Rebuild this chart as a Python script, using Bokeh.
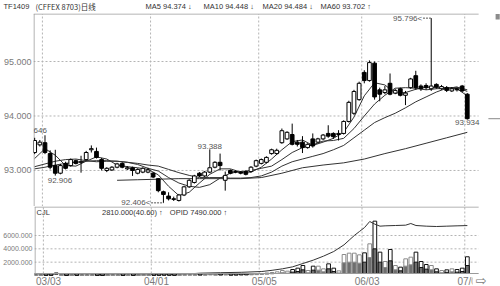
from bokeh.plotting import figure
from bokeh.models import (ColumnDataSource, FixedTicker, Range1d, Label,
                          NumeralTickFormatter)
from bokeh.layouts import column
from bokeh.embed import file_html
from bokeh.resources import INLINE
from bokeh.core.properties import value

FONT = "Liberation Sans"
CJK = "Noto Sans CJK SC"

# ---------------- data (trading-day index; 0 = 03/03) ----------------
idx = list(range(-2, 83))
opens = [93.33, 93.47,
         93.51, 93.31, 93.09, 92.95, 93.13, 93.09, 93.18, 93.15, 93.20, 93.38,
         93.35, 93.20, 93.00, 93.01, 93.06, 93.13, 93.03, 93.05, 92.95, 92.97,
         92.97, 92.95, 92.85, 92.61, 92.53, 92.48, 92.45, 92.55, 92.70, 92.78,
         92.95, 92.90, 92.97, 93.06, 93.15, 92.82, 93.00, 92.98, 92.97, 92.98,
         92.98, 93.08, 93.13, 93.15, 93.31, 93.31, 93.51, 93.58, 93.66, 93.52,
         93.52, 93.42, 93.58, 93.52, 93.58, 93.68, 93.68, 93.66, 93.68, 93.90,
         94.05, 94.30, 94.80, 94.65, 94.97, 94.48, 94.43, 94.60, 94.42, 94.50,
         94.38, 94.52, 94.74, 94.55, 94.56, 94.50, 94.58, 94.50, 94.52, 94.46,
         94.50, 94.55, 94.40]
highs = [93.60, 93.56,
         93.646, 93.37, 93.38, 93.12, 93.16, 93.22, 93.20, 93.27, 93.36, 93.46,
         93.42, 93.23, 93.06, 93.08, 93.14, 93.15, 93.08, 93.07, 93.04, 93.06,
         93.05, 92.97, 92.86, 92.63, 92.60, 92.52, 92.57, 92.72, 92.84, 92.92,
         92.97, 92.99, 93.388, 93.17, 93.31, 92.98, 93.02, 93.00, 92.99, 93.00,
         93.08, 93.20, 93.22, 93.26, 93.40, 93.40, 93.77, 93.72, 93.86, 93.56,
         93.63, 93.50, 93.68, 93.60, 93.67, 93.83, 93.70, 93.74, 93.92, 94.28,
         94.48, 94.63, 94.84, 95.02, 95.00, 94.52, 94.55, 94.78, 94.50, 94.52,
         94.46, 94.70, 94.83, 94.58, 94.60, 95.796, 94.60, 94.57, 94.55, 94.53,
         94.52, 94.57, 94.42]
lows = [93.30, 93.44,
        93.30, 93.02, 92.906, 92.93, 93.02, 93.07, 93.11, 92.96, 93.18, 93.33,
        93.22, 93.00, 92.97, 92.99, 93.04, 93.04, 93.01, 92.90, 92.93, 92.95,
        92.95, 92.86, 92.60, 92.406, 92.45, 92.44, 92.43, 92.53, 92.68, 92.76,
        92.88, 92.88, 92.95, 93.04, 93.00, 92.63, 92.93, 92.95, 92.93, 92.91,
        92.96, 93.06, 93.11, 93.13, 93.29, 93.29, 93.49, 93.56, 93.46, 93.44,
        93.32, 93.40, 93.42, 93.50, 93.56, 93.60, 93.58, 93.55, 93.66, 93.88,
        94.02, 94.28, 94.60, 94.63, 94.30, 94.27, 94.40, 94.38, 94.40, 94.36,
        94.20, 94.50, 94.48, 94.46, 94.48, 94.46, 94.50, 94.48, 94.44, 94.44,
        94.45, 94.44, 93.934]
closes = [93.55, 93.52,
          93.33, 93.06, 92.95, 93.09, 93.04, 93.20, 93.13, 93.16, 93.33, 93.40,
          93.24, 93.04, 93.04, 93.06, 93.12, 93.06, 93.05, 93.00, 93.02, 93.04,
          93.01, 92.88, 92.63, 92.56, 92.48, 92.47, 92.55, 92.70, 92.82, 92.90,
          92.90, 92.97, 93.05, 93.15, 93.09, 92.91, 92.95, 92.97, 92.95, 92.93,
          93.06, 93.18, 93.20, 93.24, 93.38, 93.37, 93.73, 93.70, 93.48, 93.48,
          93.42, 93.48, 93.45, 93.58, 93.65, 93.63, 93.62, 93.68, 93.90, 94.25,
          94.45, 94.60, 94.65, 94.98, 94.35, 94.40, 94.48, 94.40, 94.47, 94.38,
          94.42, 94.68, 94.52, 94.50, 94.52, 94.55, 94.53, 94.54, 94.47, 94.50,
          94.48, 94.46, 93.95]

# moving averages
ma_x = list(range(-2, 83, 2))
ma5 = [93.22, 93.40, 93.28, 93.09, 93.08, 93.17, 93.25, 93.21, 93.10, 93.07,
       93.05, 93.02, 92.92, 92.71, 92.54, 92.60, 92.77, 92.93, 93.03, 93.03,
       92.97, 92.97, 93.06, 93.21, 93.38, 93.53, 93.56, 93.46, 93.52, 93.59,
       93.70, 93.98, 94.37, 94.61, 94.57, 94.42, 94.43, 94.49, 94.53, 94.52,
       94.52, 94.50, 94.37]
ma10 = [93.07, 93.12, 93.17, 93.20, 93.21, 93.18, 93.16, 93.17, 93.17, 93.15,
        93.11, 93.04, 92.99, 92.87, 92.77, 92.71, 92.69, 92.74, 92.86, 92.95,
        92.98, 93.00, 93.04, 93.08, 93.20, 93.33, 93.42, 93.47, 93.54, 93.55,
        93.59, 93.77, 94.00, 94.22, 94.38, 94.51, 94.52, 94.51, 94.48, 94.50,
        94.51, 94.53, 94.45]
ma20 = [93.03, 93.06, 93.10, 93.13, 93.15, 93.17, 93.18, 93.18, 93.17, 93.15,
        93.13, 93.10, 93.08, 93.02, 92.96, 92.91, 92.87, 92.87, 92.87, 92.86,
        92.86, 92.87, 92.90, 92.97, 93.08, 93.16, 93.21, 93.26, 93.31, 93.38,
        93.46, 93.60, 93.74, 93.88, 93.97, 94.05, 94.15, 94.26, 94.35, 94.44,
        94.51, 94.53, 94.48]
ma60_x = [14, 18, 22, 26, 30, 34, 38, 42, 46, 50, 54, 58, 62, 66, 70, 74, 78, 82]
ma60 = [92.82, 92.83, 92.84, 92.85, 92.85, 92.85, 92.85, 92.87, 92.95, 93.05,
        93.10, 93.14, 93.21, 93.31, 93.40, 93.50, 93.60, 93.70]

# volume (CJL) with its darker inner part, and open interest (OPID)
vol = [30, 25,
       40, 60, 380, 35, 20, 30, 40, 25, 30, 45,
       30, 20, 25, 40, 30, 20, 35, 30, 25, 40,
       30, 50, 60, 80, 70, 50, 60, 90, 100, 80,
       120, 90, 150, 110, 130, 140, 100, 120, 150, 180,
       200, 250, 300, 380, 450, 550, 750, 650, 900, 1100,
       1500, 750, 1400, 1400, 1000, 1750, 1100, 700, 3150, 3350,
       3350, 3100, 3400, 4750, 8150, 3500, 2100, 3900, 1500, 1250,
       2500, 2750, 3500, 2100, 1650, 1500, 1000, 750, 850, 1000,
       900, 1100, 2810]
vol_dark = [15, 12,
            20, 30, 200, 20, 10, 15, 20, 12, 15, 25,
            15, 10, 12, 20, 15, 10, 18, 15, 12, 20,
            15, 25, 30, 40, 35, 25, 30, 45, 50, 40,
            60, 45, 80, 55, 70, 70, 50, 60, 80, 90,
            100, 130, 160, 200, 250, 300, 420, 350, 500, 600,
            850, 400, 800, 800, 550, 1000, 600, 380, 1900, 2000,
            2000, 1850, 2000, 2700, 4000, 2000, 1200, 2200, 850, 700,
            1400, 1600, 2000, 1200, 950, 850, 550, 420, 480, 550,
            500, 600, 1500]
opid_x = [29, 30, 34, 38, 42, 44, 46, 48, 50, 52, 54, 56, 58, 59, 60, 61, 62,
          63, 64, 65, 66, 68, 70, 71, 72, 74, 76, 78, 80, 82]
opid = [300, 350, 420, 480, 600, 780, 1000, 1300, 1800, 2300, 2900, 3600, 4600,
        5300, 6000, 6600, 7200, 8100, 7700, 7400, 7450, 7500, 7550, 7800, 7500,
        7400, 7350, 7400, 7450, 7490]

date_ticks = [0, 21, 42, 62, 82]
date_labels = ["03/03", "04/01", "05/05", "06/03", "07/01"]
price_ticks = [93, 94, 95]
vol_ticks = [2000, 4000, 6000]

header_text = ["TF1409", "MA5 94.374 ↓", "MA10 94.448 ↓", "MA20 94.484 ↓", "MA60 93.702 ↑"]
header_cjk = "(CFFEX 8703)日线"

# ---------------- sources ----------------
up = [c >= o for o, c in zip(opens, closes)]
csrc = ColumnDataSource(dict(
    x=idx, h=highs, l=lows,
    top=[max(o, c) for o, c in zip(opens, closes)],
    bot=[min(o, c) for o, c in zip(opens, closes)],
    fill=["white" if u else "black" for u in up],
))
vsrc = ColumnDataSource(dict(
    x=idx, v=vol, vd=vol_dark,
    edge=["#8a8a8a" if u else "#111111" for u in up],
))

GRID = "#b4b4b4"
TXT = "#7a7a7a"
FRAME = "#9a9a9a"
X0, X1, XR = -2.23, 84.2, 88.45      # left edge, panel right edge, window right edge
x_range = Range1d(X0, XR)

P_LO, P_HI = 92.339, 95.881
V_LO, V_HI, V_BASE = -1650, 10350, 300

def base_fig(h, yr, left=33):
    f = figure(width=500, height=h, x_range=x_range, y_range=yr,
               output_backend="svg", toolbar_location=None, x_axis_location=None,
               min_border_left=left, min_border_right=0, min_border_top=0,
               min_border_bottom=0, background_fill_color="white",
               border_fill_color="white", frame_align=False)
    f.grid.grid_line_color = None
    f.outline_line_color = None
    return f

def style_axis(a, ticks, size):
    a.ticker = FixedTicker(ticks=ticks)
    a.formatter = NumeralTickFormatter(format="0.000")
    a.major_label_text_font = FONT
    a.major_label_text_font_size = size
    a.major_label_text_color = TXT
    a.major_tick_line_color = None
    a.minor_tick_line_color = None
    a.major_tick_out = 0
    a.major_tick_in = 0
    a.minor_tick_out = 0
    a.minor_tick_in = 0
    a.axis_line_color = None
    a.major_label_standoff = 2

# ---------------- header strip ----------------
hdr = figure(width=500, height=13, x_range=Range1d(0, 500), y_range=Range1d(13, 0),
             output_backend="svg", toolbar_location=None, x_axis_location=None,
             y_axis_location=None, min_border=0, min_border_left=0,
             min_border_right=0, min_border_top=0, min_border_bottom=0,
             background_fill_color="white", border_fill_color="white",
             frame_align=False)
hdr.grid.grid_line_color = None
hdr.outline_line_color = None
hdr.text(x=[3, 145, 203, 262, 320], y=[5.5] * 5, text=header_text,
         text_font=value(FONT), text_font_size="7.5px", text_color="#333333",
         text_baseline="middle")
hdr.text(x=[35], y=[5.5], text=[header_cjk], text_font=value(CJK),
         text_font_size="7.5px", text_color="#333333", text_baseline="middle")

# ---------------- main price panel ----------------
p = base_fig(193, Range1d(P_LO, P_HI))
style_axis(p.yaxis[0], price_ticks, "9px")

ptop = P_HI - 0.5 / 54.5
p.segment(x0=[X0] * 3, y0=price_ticks, x1=[X1] * 3, y1=price_ticks,
          color=GRID, line_dash="2 2", line_width=1)
p.segment(x0=[t - 0.5 for t in date_ticks], y0=[P_LO] * 5,
          x1=[t - 0.5 for t in date_ticks], y1=[ptop] * 5,
          color=GRID, line_dash="2 2", line_width=1)
p.segment(x0=[X0, X0 + 0.1], y0=[ptop, P_LO], x1=[X1, X0 + 0.1], y1=[ptop, ptop],
          color=FRAME, line_width=1)

p.line(ma60_x, ma60, color="#333333", line_width=1)
p.line(ma_x, ma20, color="#333333", line_width=1)
p.line(ma_x, ma10, color="#333333", line_width=1)
p.line(ma_x, ma5, color="#333333", line_width=1)

p.segment(x0="x", y0="h", x1="x", y1="l", source=csrc, color="black", line_width=1)
p.vbar(x="x", top="top", bottom="bot", width=0.72, source=csrc,
       fill_color="fill", line_color="black", line_width=1)

# right-edge price marker and small box
p.segment(x0=[86.1], y0=[closes[-1]], x1=[XR], y1=[closes[-1]], color="#888888", line_width=1)
p.rect(x=[87.9], y=[95.82], width=0.8, height=0.1, fill_color="#8c8c8c", line_color=None)

def lab(fig, text, x, y, align="left", base="middle", color="#555555", xo=0, yo=0):
    fig.add_layout(Label(x=x, y=y, text=text, text_align=align, text_baseline=base,
                         text_font=FONT, text_font_size="8px", text_color=color,
                         x_offset=xo, y_offset=yo))

lab(p, "93.646", -2.0, highs[2], align="center", base="bottom", yo=2)
lab(p, "92.906", 2.9, lows[4], align="center", base="top", yo=-2)
lab(p, "93.388", 32, highs[34], align="center", base="bottom")
lab(p, "93.934", 82, lows[-1], align="center", base="top")
lab(p, "92.406<", 23, lows[25], align="right", xo=-13)
lab(p, "95.796<", 75, highs[77], align="right", xo=-9)
p.segment(x0=[23 - 2.4, 75 - 1.6], y0=[lows[25], highs[77]], x1=[23, 75],
          y1=[lows[25], highs[77]], color="#555555", line_width=1, line_dash="2 1")

# ---------------- volume panel ----------------
v = base_fig(80, Range1d(V_LO, V_HI))
style_axis(v.yaxis[0], vol_ticks, "7px")

vtop = V_HI - 0.5 * 150
v.segment(x0=[X0] * 3, y0=vol_ticks, x1=[X1] * 3, y1=vol_ticks,
          color=GRID, line_dash="2 2", line_width=1)
v.segment(x0=[t - 0.5 for t in date_ticks], y0=[V_BASE] * 5,
          x1=[t - 0.5 for t in date_ticks], y1=[vtop] * 5,
          color=GRID, line_dash="2 2", line_width=1)

v.vbar(x="x", top="v", bottom=V_BASE, width=0.72, source=vsrc,
       fill_color="white", line_color="edge", line_width=1)
v.vbar(x="x", top="vd", bottom=V_BASE, width=0.72, source=vsrc,
       fill_color="#6e6e6e", line_color="edge", line_width=1)
v.line(opid_x, opid, color="#333333", line_width=1)

v.segment(x0=[X0, X0, X0 + 0.1], y0=[vtop, V_BASE, V_BASE], x1=[X1, X1, X0 + 0.1],
          y1=[vtop, V_BASE, vtop], color=FRAME, line_width=1)

v.text(x=[-1.84, 10.9, 24.1], y=[9450] * 3,
       text=["CJL", "2810.000(40.60) ↑", "OPID  7490.000 ↑"],
       text_font=value(FONT), text_font_size="7.5px", text_color="#333333",
       text_baseline="middle")
v.text(x=[t + 0.5 for t in date_ticks], y=[-825] * 5, text=date_labels,
       text_font=value(FONT), text_font_size="10px", text_color=TXT,
       text_align="center", text_baseline="middle")
v.quad(left=[83.0], right=[XR], bottom=[V_LO], top=[150], fill_color="white",
       line_color=None)
v.text(x=[84.7], y=[-675], text=["⇨"], text_font=value("DejaVu Sans"),
       text_font_size="13px", text_color="#7a7a7a", text_align="center",
       text_baseline="middle")

layout = column(hdr, p, v, spacing=0)
open("out.html", "w").write(file_html(layout, INLINE))
